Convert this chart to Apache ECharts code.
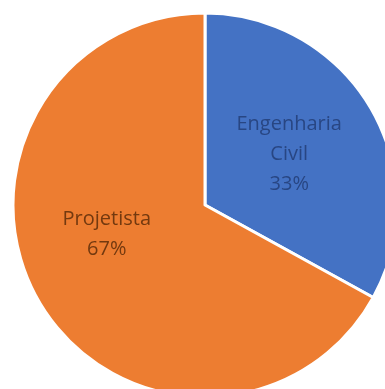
<!DOCTYPE html>
<html>
<head>
<meta charset="utf-8">
<script src="https://cdn.jsdelivr.net/npm/echarts@6/dist/echarts.min.js"></script>
<style>
  html, body { margin: 0; padding: 0; background: #ffffff; }
  #chart { width: 385px; height: 389px; }
</style>
</head>
<body>
<div id="chart"></div>
<script>
// Share of respondents by profile
const categories = ['Engenharia Civil', 'Projetista'];
const shares = [33, 67];

const sliceColors = ['#4472C4', '#ED7D31'];
const labelColors = ['#284683', '#73390F'];
const labelOffsets = [[-1, 0], [-13, -21]];

const chart = echarts.init(document.getElementById('chart'), null, { renderer: 'canvas' });

chart.setOption({
  animation: false,
  series: [{
    type: 'pie',
    center: [205, 205],
    radius: [0, 192],
    startAngle: 90,
    clockwise: true,
    itemStyle: { borderColor: '#ffffff', borderWidth: 3 },
    label: {
      show: true,
      position: 'inner',
      fontFamily: 'Open Sans',
      fontSize: 20,
      lineHeight: 30,
      align: 'center',
      formatter: function (p) {
        return p.name.split(' ').join('\n') + '\n' + p.value + '%';
      }
    },
    labelLine: { show: false },
    emphasis: { disabled: true },
    data: categories.map(function (name, i) {
      return {
        name: name,
        value: shares[i],
        itemStyle: { color: sliceColors[i] },
        label: { color: labelColors[i], offset: labelOffsets[i] }
      };
    })
  }]
});
</script>
</body>
</html>
